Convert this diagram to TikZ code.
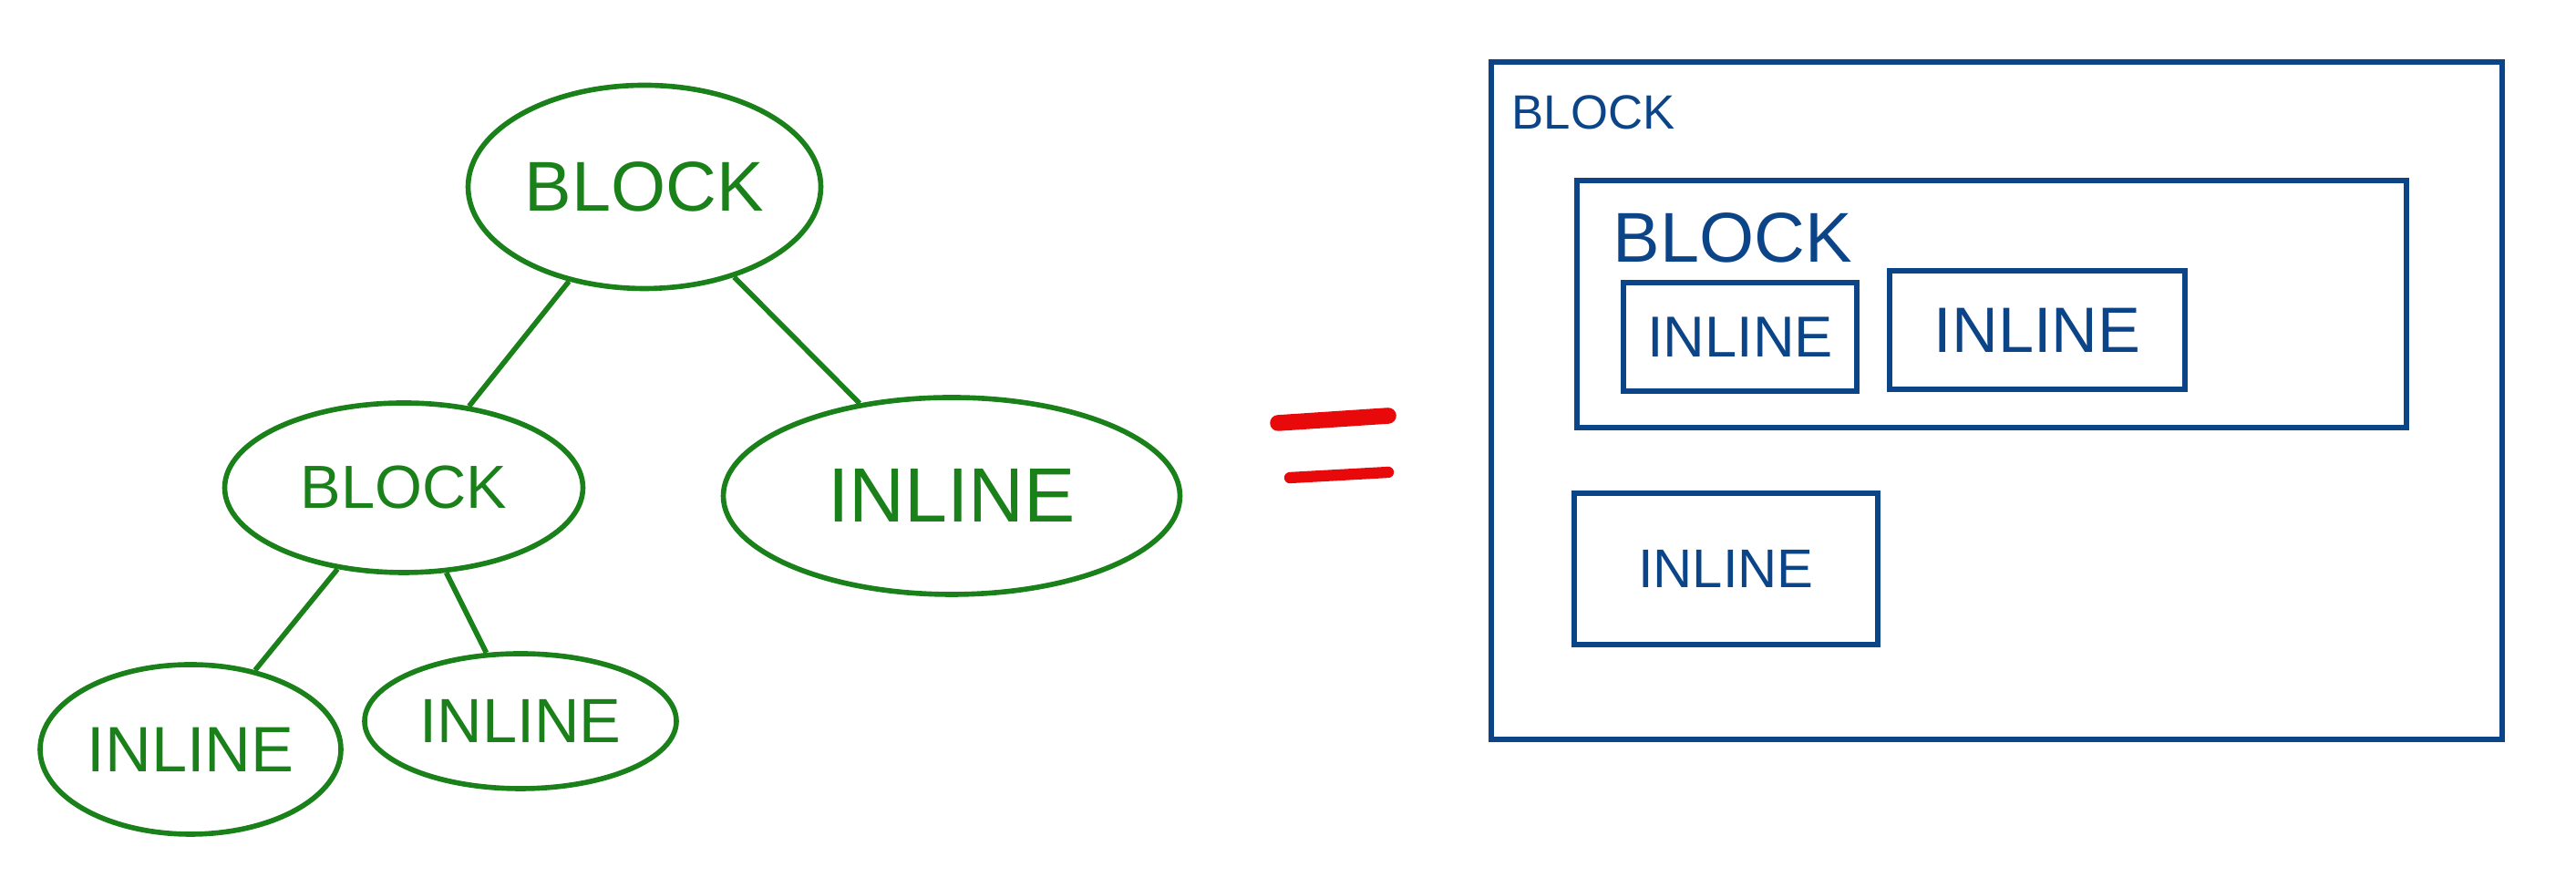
\documentclass[tikz,border=0pt]{standalone}
\usepackage{fontspec}
\setmainfont{Liberation Sans}
\usepackage{xcolor}
\usepackage{tikz}
\usetikzlibrary{shapes.geometric}

\definecolor{penGreen}{RGB}{26,128,26}
\definecolor{penBlue}{RGB}{12,68,136}
\definecolor{penRed}{RGB}{232,10,10}

\tikzset{
  treenode/.style={ellipse, draw=penGreen, line width=1.6pt, text=penGreen, inner sep=0pt},
  treeedge/.style={draw=penGreen, line width=1.6pt},
  boxnode/.style={rectangle, draw=penBlue, line width=1.6pt, text=penBlue, inner sep=0pt},
  boxlabel/.style={text=penBlue, inner sep=0pt},
  eqbar/.style={draw=penRed, line cap=round}
}

\begin{document}
\begin{tikzpicture}
\useasboundingbox (0,0) rectangle (28.26,9.74);
% tree
\node[treenode, minimum width=3.87cm, minimum height=2.23cm] (root) at (7.07,7.69) {\fontsize{22}{24}\selectfont BLOCK};
\node[treenode, minimum width=3.93cm, minimum height=1.86cm] (blk) at (4.43,4.39) {\fontsize{19}{21}\selectfont BLOCK};
\node[treenode, minimum width=5.01cm, minimum height=2.16cm] (inlR) at (10.44,4.30) {\fontsize{24}{26}\selectfont INLINE};
\node[treenode, minimum width=3.30cm, minimum height=1.86cm] (inlA) at (2.09,1.52) {\fontsize{20}{22}\selectfont INLINE};
\node[treenode, minimum width=3.42cm, minimum height=1.48cm] (inlB) at (5.71,1.83) {\fontsize{19.5}{21}\selectfont INLINE};
\draw[treeedge] (root) -- (blk);
\draw[treeedge] (root) -- (inlR);
\draw[treeedge] (blk) -- (inlA);
\draw[treeedge] (blk) -- (inlB);
% equals sign
\coordinate (eqA1) at (14.02,5.10);
\coordinate (eqA2) at (15.23,5.18);
\coordinate (eqB1) at (14.15,4.50);
\coordinate (eqB2) at (15.23,4.56);
\draw[eqbar, line width=5pt] (eqA1) -- (eqA2);
\draw[eqbar, line width=3.5pt] (eqB1) -- (eqB2);
% boxes
\node[boxnode, minimum width=11.09cm, minimum height=7.43cm] (outer) at (21.905,5.345) {};
\node[boxlabel, anchor=center] (outerLbl) at (17.48,8.51) {\fontsize{15}{17}\selectfont BLOCK};
\node[boxnode, minimum width=9.10cm, minimum height=2.71cm] (inner) at (21.85,6.405) {};
\node[boxlabel, anchor=center] (innerLbl) at (19.01,7.13) {\fontsize{22}{24}\selectfont BLOCK};
\node[boxnode, minimum width=2.56cm, minimum height=1.19cm] (boxA) at (19.09,6.045) {\fontsize{18}{20}\selectfont INLINE};
\node[boxnode, minimum width=3.24cm, minimum height=1.30cm] (boxB) at (22.35,6.12) {\fontsize{20}{22}\selectfont INLINE};
\node[boxnode, minimum width=3.33cm, minimum height=1.66cm] (boxC) at (18.935,3.50) {\fontsize{17}{19}\selectfont INLINE};
\end{tikzpicture}
\end{document}
